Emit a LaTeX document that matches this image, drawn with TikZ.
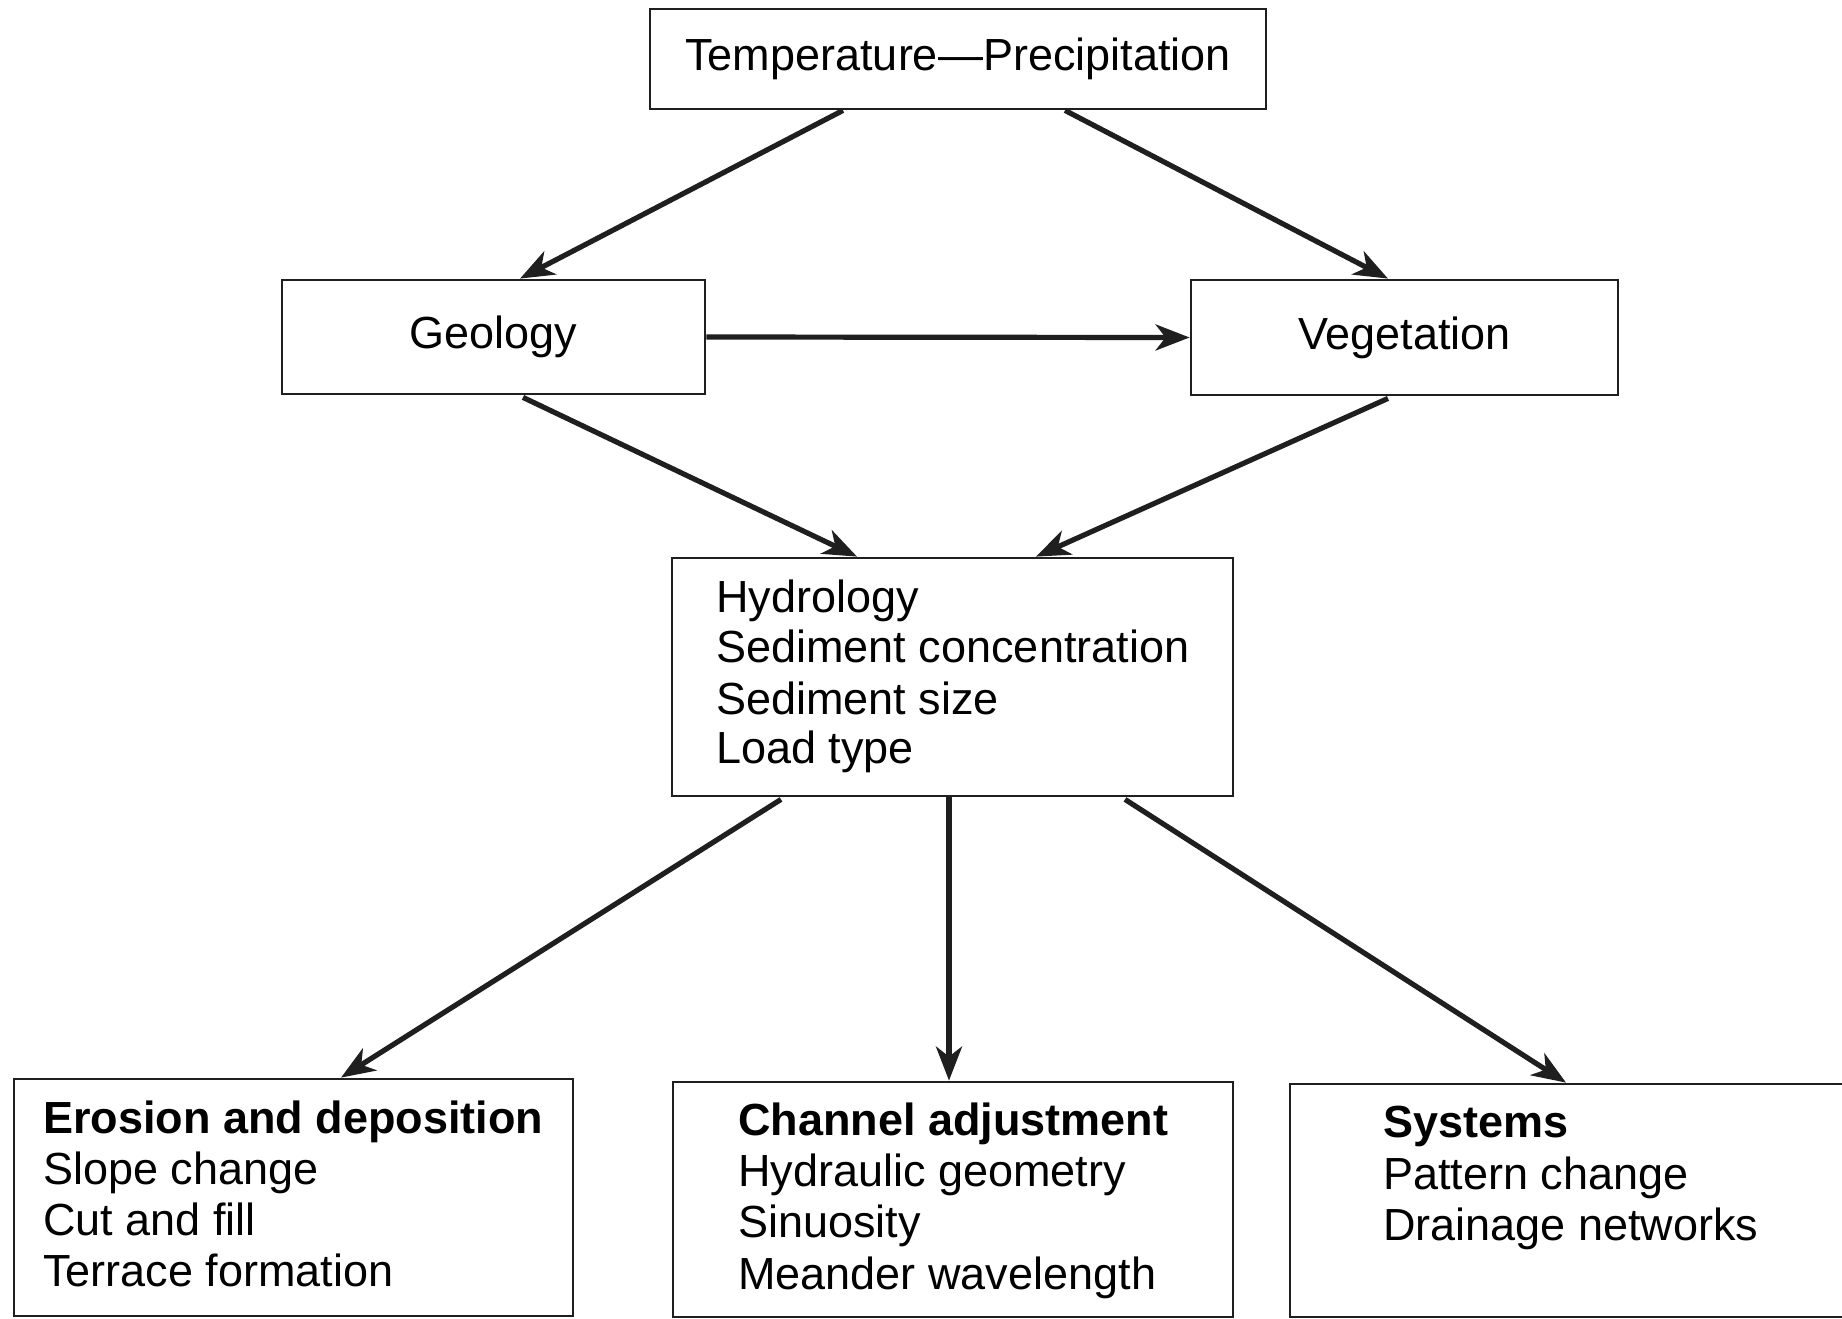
\documentclass[tikz,border=0pt]{standalone}
\usepackage{fontspec}
\setmainfont{Liberation Sans}
\usetikzlibrary{arrows.meta}
\begin{document}
\begin{tikzpicture}[x=0.5pt,y=-0.5pt,
  box/.style={draw=black!88, line width=1.4pt, rectangle, inner sep=0pt},
  lbl/.style={anchor=base west, inner sep=0pt, font=\fontsize{22.5pt}{25.7pt}\selectfont},
  ctr/.style={font=\fontsize{22.5pt}{25.7pt}\selectfont},
  arr/.style={draw=black!88, line width=2.6pt, -{Stealth[length=17pt,width=13pt,inset=5pt]}}]
\useasboundingbox (0,0) rectangle (1842,1318);
\clip (0,0) rectangle (1842,1318);
\fill[white] (0,0) rectangle (1842,1318);

% boxes
\node[box, ctr, minimum width=308pt, minimum height=50pt] (top) at (958,59) {Temperature---Precipitation};
\node[box, ctr, minimum width=211.5pt, minimum height=57pt] (geo) at (493.5,337) {Geology};
\node[box, ctr, minimum width=213.5pt, minimum height=57.5pt] (veg) at (1404.5,337.5) {Vegetation};
\node[box, minimum width=280.5pt, minimum height=119pt] (hyd) at (952.5,677) {};
\node[box, minimum width=279.5pt, minimum height=118.5pt] (ero) at (293.5,1197.5) {};
\node[box, minimum width=280pt, minimum height=117.5pt] (cha) at (953,1199.5) {};
\node[box, minimum width=285pt, minimum height=116.5pt] (sys) at (1575,1200.5) {};

% text in hydrology box
\node[lbl] (h1) at (716,612) {Hydrology};
\node[lbl] (h2) at (716,662) {Sediment concentration};
\node[lbl] (h3) at (716,714) {Sediment size};
\node[lbl] (h4) at (716,763) {Load type};

% erosion
\node[lbl, font=\fontsize{22.5pt}{25.7pt}\selectfont\bfseries] (e1) at (43,1133) {Erosion and deposition};
\node[lbl] (e2) at (43,1184) {Slope change};
\node[lbl] (e3) at (43,1235) {Cut and fill};
\node[lbl] (e4) at (43,1286) {Terrace formation};

% channel
\node[lbl, font=\fontsize{22.5pt}{25.7pt}\selectfont\bfseries] (c1) at (738,1135) {Channel adjustment};
\node[lbl] (c2) at (738,1186) {Hydraulic geometry};
\node[lbl] (c3) at (738,1237) {Sinuosity};
\node[lbl] (c4) at (738,1289) {Meander wavelength};

% systems
\node[lbl, font=\fontsize{22.5pt}{25.7pt}\selectfont\bfseries] (s1) at (1383,1137) {Systems};
\node[lbl] (s2) at (1383,1189) {Pattern change};
\node[lbl] (s3) at (1383,1240) {Drainage networks};

% connectors
\draw[arr] ([xshift=-57.5pt]top.south) -- ([xshift=13.25pt]geo.north);
\draw[arr] ([xshift=53.5pt]top.south) -- ([xshift=-8.25pt]veg.north);
\draw[arr] (geo.east) -- (veg.west);
\draw[arr] ([xshift=14.75pt,yshift=-1pt]geo.south) -- ([xshift=-47.75pt]hyd.north);
\draw[arr] ([xshift=-8.25pt,yshift=-1pt]veg.south) -- ([xshift=41.75pt]hyd.north);
\draw[arr] ([xshift=-85.75pt,yshift=-1pt]hyd.south) -- ([xshift=23.75pt]ero.north);
\draw[arr] ([xshift=-1.75pt]hyd.south) -- ([xshift=-2pt]cha.north);
\draw[arr] ([xshift=86.25pt,yshift=-1pt]hyd.south) -- ([xshift=-4.5pt]sys.north);
\end{tikzpicture}
\end{document}
